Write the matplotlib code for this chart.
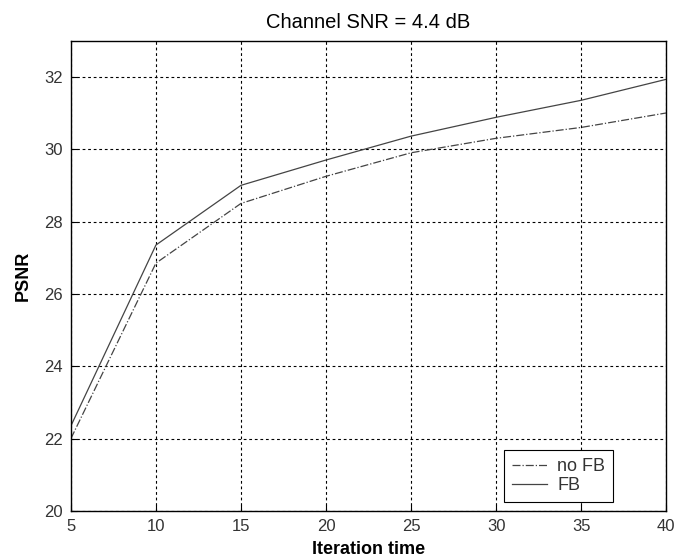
import matplotlib
matplotlib.use("Agg")
import matplotlib.pyplot as plt

plt.rcParams['font.family'] = ['Liberation Sans', 'DejaVu Sans']

iterations = [5, 10, 15, 20, 25, 30, 35, 40]
psnr_no_fb = [22.0, 26.85, 28.5, 29.25, 29.9, 30.3, 30.6, 31.0]
psnr_fb = [22.35, 27.35, 29.0, 29.7, 30.36, 30.88, 31.35, 31.93]

fig = plt.figure(figsize=(6.75, 5.6), dpi=100)
ax = fig.add_axes([0.105, 0.0875, 0.882, 0.84])

ax.plot(iterations, psnr_no_fb, linestyle='-.', color='#444444', linewidth=0.9, label='no FB')
ax.plot(iterations, psnr_fb, linestyle='-', color='#444444', linewidth=0.9, label='FB')

ax.set_xlim(5, 40)
ax.set_ylim(20, 33)
ax.set_xticks(range(5, 41, 5))
ax.set_yticks(range(20, 33, 2))
ax.grid(True, linestyle=(0, (2.5, 2.5)), color='black', linewidth=0.8)
ax.tick_params(direction='in', labelsize=12, length=4, pad=6, colors='black')
ax.tick_params(axis='both', labelcolor='#333333')
for s in ax.spines.values():
    s.set_linewidth(1.0)

ax.set_title('Channel SNR = 4.4 dB', fontsize=14.5, pad=9)
ax.set_xlabel('Iteration time', fontsize=13, fontweight='bold', labelpad=5)
ax.set_ylabel('PSNR', fontsize=13, fontweight='bold', labelpad=9)

# legend box roughly x 496-613, y 457-502 px in the reference
leg = ax.legend(loc='lower right', bbox_to_anchor=(0.911, 0.019), fontsize=13,
                fancybox=False, framealpha=1, edgecolor='black',
                handlelength=1.95, handletextpad=0.55, borderpad=0.45,
                labelspacing=0.1, borderaxespad=0)
leg.get_frame().set_linewidth(0.8)
for t in leg.get_texts():
    t.set_color('#333333')

fig.savefig('out.png', dpi=100)
